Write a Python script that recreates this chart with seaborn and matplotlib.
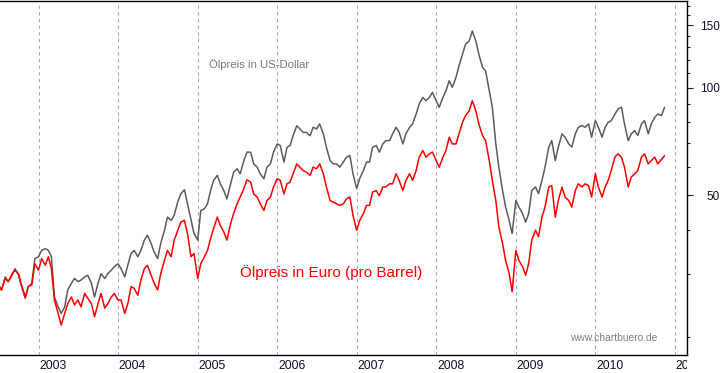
import matplotlib
matplotlib.use("Agg")
import matplotlib.pyplot as plt
import matplotlib.dates as mdates
import matplotlib.ticker as mticker
from matplotlib.transforms import ScaledTranslation, Bbox, TransformedBbox
import seaborn as sns
import pandas as pd

# ---------------- data (semi-monthly oil price readings) ----------------
start_date = "2002-07-01"

usd = [
    28.0, 27.1, 29.5, 28.6, 29.8, 31.1, 29.8, 27.7, 25.7, 27.7,
    28.3, 33.2, 33.6, 35.0, 35.4, 35.0, 33.6, 25.9, 24.3, 23.3,
    24.3, 27.1, 28.3, 29.2, 28.6, 28.9, 29.5, 29.8, 28.3, 25.9,
    28.3, 30.1, 29.2, 30.1, 30.8, 31.5, 32.1, 31.1, 29.5, 31.8,
    34.3, 35.0, 33.6, 35.0, 37.4, 38.6, 36.6, 34.6, 33.2, 36.6,
    39.8, 43.4, 42.5, 43.9, 47.8, 50.4, 51.8, 47.3, 42.5, 39.0,
    37.4, 45.3, 45.8, 47.3, 51.5, 55.0, 56.8, 53.8, 51.5, 48.8,
    53.8, 58.0, 59.3, 57.4, 62.5, 66.0, 66.0, 61.2, 59.9, 57.4,
    55.6, 59.9, 61.2, 66.0, 69.6, 68.9, 61.9, 68.1, 68.9, 73.4,
    78.3, 76.7, 75.0, 75.0, 73.4, 77.5, 76.7, 79.2, 74.2, 68.1,
    62.5, 61.2, 61.2, 59.9, 61.9, 63.9, 64.6, 57.4, 52.2, 55.7,
    58.6, 61.9, 61.9, 68.1, 68.9, 66.0, 69.6, 71.1, 71.1, 74.3,
    77.5, 75.1, 69.6, 74.3, 77.5, 79.2, 84.4, 90.1, 94.0, 92.0,
    94.0, 97.1, 92.0, 88.2, 94.0, 98.1, 104.7, 100.3, 106.9, 115.3,
    124.3, 132.6, 135.4, 144.4, 135.4, 124.3, 114.1, 111.6, 98.1, 88.2,
    69.6, 59.9, 51.5, 46.3, 42.5, 39.0, 48.3, 46.3, 44.4, 42.0,
    44.4, 51.5, 52.7, 50.5, 55.0, 59.9, 68.2, 71.1, 62.5, 68.2,
    74.3, 72.7, 69.6, 68.2, 74.3, 77.5, 78.4, 77.5, 79.2, 72.7,
    80.9, 77.5, 72.7, 77.5, 80.0, 80.9, 84.4, 87.2, 88.2, 79.2,
    71.1, 74.3, 75.9, 73.5, 79.2, 80.9, 74.3, 79.2, 82.7, 84.4,
    83.6, 88.2,
]

eur = [
    28.0, 27.1, 29.2, 28.6, 30.1, 30.8, 30.1, 28.0, 25.9, 27.7,
    28.0, 32.1, 30.8, 33.2, 31.8, 33.6, 31.1, 25.4, 23.3, 21.6,
    23.3, 24.8, 25.9, 24.6, 25.4, 24.3, 26.5, 25.7, 24.8, 22.8,
    24.8, 26.5, 24.1, 24.8, 25.9, 26.5, 25.4, 25.4, 23.3, 24.8,
    27.7, 27.4, 26.2, 28.9, 31.1, 31.8, 29.8, 28.3, 27.1, 30.1,
    32.8, 35.0, 33.6, 37.4, 39.8, 42.0, 42.5, 39.0, 33.6, 34.3,
    29.2, 32.1, 33.6, 35.0, 37.8, 40.3, 43.4, 41.1, 39.4, 37.4,
    41.6, 44.4, 47.3, 49.4, 52.1, 55.2, 54.4, 50.4, 49.4, 47.3,
    45.3, 48.3, 49.4, 52.7, 55.6, 55.0, 50.4, 53.8, 54.4, 57.4,
    61.2, 59.9, 58.6, 58.0, 56.8, 59.9, 59.3, 61.2, 57.4, 52.7,
    48.3, 47.8, 47.3, 46.8, 47.3, 48.8, 49.4, 43.9, 39.8, 42.5,
    44.4, 46.8, 46.8, 51.0, 51.5, 49.8, 52.7, 52.7, 53.8, 53.8,
    57.4, 55.0, 51.5, 55.0, 57.4, 55.0, 58.6, 63.9, 66.7, 63.9,
    65.3, 66.0, 62.5, 59.9, 63.9, 66.7, 72.7, 69.6, 69.6, 74.3,
    80.0, 83.6, 86.3, 92.0, 86.3, 79.2, 73.5, 71.1, 62.5, 55.0,
    48.3, 40.7, 36.6, 32.8, 30.2, 26.8, 35.0, 32.8, 31.5, 29.8,
    32.2, 37.4, 39.9, 38.2, 43.4, 46.3, 52.7, 53.2, 43.4, 48.3,
    52.7, 49.4, 48.3, 46.3, 51.5, 53.8, 52.7, 53.8, 53.2, 49.4,
    57.4, 52.7, 49.4, 52.7, 55.0, 58.6, 63.9, 65.3, 63.9, 59.9,
    52.7, 56.2, 57.4, 58.6, 63.9, 65.3, 61.2, 62.5, 63.9, 61.2,
    63.0, 64.5,
]

y_major = [50, 100, 150]
y_minor = [20, 30, 40, 60, 70, 80, 90, 110, 120, 130, 140, 160, 170]

label_usd = "Ölpreis in US-Dollar"
label_eur = "Ölpreis in Euro (pro Barrel)"
source = "www.chartbuero.de"

# ---------------- figure ----------------
sns.set_style("white")
plt.rcParams['font.family'] = ['Liberation Sans', 'DejaVu Sans']

dates = pd.date_range(start_date, periods=len(usd), freq="SMS")
df = pd.DataFrame({
    "Datum": list(dates) * 2,
    "Preis": usd + eur,
    "Serie": ["USD"] * len(usd) + ["EUR"] * len(eur),
})

W, H = 723, 373
fig = plt.figure(figsize=(W / 100, H / 100), dpi=100)
ax = fig.add_axes([0, (H - 355) / H, 687 / W, 354 / H])

sns.lineplot(data=df, x="Datum", y="Preis", hue="Serie",
             hue_order=["USD", "EUR"],
             palette={"USD": "#5c5c5c", "EUR": "#ff0000"},
             linewidth=1.1, legend=False, estimator=None, ax=ax)

ax.set_yscale("log")
ax.set_ylim(17.81, 175.2)
ax.set_xlim(pd.Timestamp("2002-07-08"), pd.Timestamp("2011-02-26"))
ax.set_xlabel("")
ax.set_ylabel("")

# y axis on the right
ax.yaxis.tick_right()
ax.yaxis.set_major_locator(mticker.FixedLocator(y_major))
ax.yaxis.set_minor_locator(mticker.FixedLocator(y_minor))
ax.yaxis.set_major_formatter(mticker.FuncFormatter(lambda v, p: f"{v:.0f}"))
ax.yaxis.set_minor_formatter(mticker.NullFormatter())
ax.tick_params(axis="y", which="major", direction="out", length=4, width=0.8,
               pad=19.5, labelsize=8.5, labelcolor="#10102a",
               right=True, left=False, labelright=True, labelleft=False)
ax.tick_params(axis="y", which="minor", direction="out", length=2.5,
               width=0.8, right=True, left=False)

# x axis: years + months
ax.xaxis.set_major_locator(mdates.YearLocator())
ax.xaxis.set_major_formatter(mdates.DateFormatter("%Y"))
ax.xaxis.set_minor_locator(mdates.MonthLocator())
ax.tick_params(axis="x", which="major", direction="out", length=13.5,
               width=0.8, pad=-9.6, labelsize=8.8, labelcolor="#10102a")
ax.tick_params(axis="x", which="minor", direction="out", length=2.3,
               width=0.8)

ax.grid(False)
ax.grid(True, axis="x", which="major", color="#aca4b8",
        linestyle=(0, (3, 3)), linewidth=0.8)

for side in ["top", "right", "bottom"]:
    ax.spines[side].set_visible(True)
    ax.spines[side].set_color("black")
    ax.spines[side].set_linewidth(1.0)
ax.spines["left"].set_visible(False)

# texts
ax.text(209 / 687, (355 - 65) / 354, label_usd, transform=ax.transAxes,
        ha="left", va="center", fontsize=8.2, color="#787878")
ax.text(240 / 687, (355 - 272.5) / 354, label_eur, transform=ax.transAxes,
        ha="left", va="center", fontsize=11, color="#ff0000")
ax.text(570 / 687, (355 - 338) / 354, source, transform=ax.transAxes,
        ha="left", va="center", fontsize=7.4, color="#808080")

fig.canvas.draw()
clip = TransformedBbox(Bbox([[0, -1], [1, 2]]), ax.transAxes)
shift = ScaledTranslation(0.8 / 100, 0, fig.dpi_scale_trans)
for lab in ax.get_xticklabels():
    lab.set_horizontalalignment("left")
    lab.set_transform(lab.get_transform() + shift)
    lab.set_clip_box(clip)
    lab.set_clip_on(True)
for lab in ax.get_yticklabels():
    lab.set_horizontalalignment("right")

fig.savefig("out.png", dpi=100)
